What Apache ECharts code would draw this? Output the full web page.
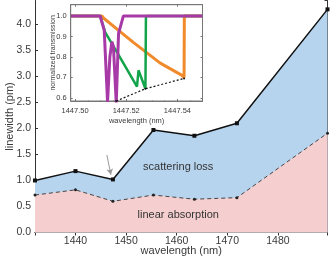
<!DOCTYPE html>
<html><head><meta charset="utf-8">
<script src="https://cdn.jsdelivr.net/npm/echarts@6/dist/echarts.min.js"></script>
<style>html,body{margin:0;padding:0;background:#fff}#c{width:330px;height:257px}</style>
</head><body><div id="c"></div>
<script>
// Main chart data
const wavelengths = [1432.0, 1440.0, 1447.4, 1455.4, 1463.5, 1471.9, 1489.8];
const totalLinewidth = [1.00, 1.18, 1.02, 1.97, 1.86, 2.10, 4.29];
const absorption = [0.72, 0.82, 0.60, 0.72, 0.64, 0.67, 1.91];
const yTicks = [0, 0.5, 1, 1.5, 2, 2.5, 3, 3.5, 4];
const xTicks = [1440, 1450, 1460, 1470, 1480];
// Inset traces (wavelength nm, normalized transmission)
const orangeX = [1447.4983, 1447.5105, 1447.5111, 1447.5170, 1447.5229, 1447.5333, 1447.5418, 1447.5426, 1447.5427, 1447.5498];
const orangeY = [1.0, 1.0, 0.99, 0.93, 0.87, 0.77, 0.71, 0.70, 1.0, 1.0];
const greenX = [1447.4983, 1447.5098, 1447.5118, 1447.5170, 1447.5242, 1447.5248, 1447.5275, 1447.5277, 1447.5498];
const greenY = [1.0, 1.0, 0.92, 0.81, 0.655, 0.735, 0.645, 1.0, 1.0];
const purpleX = [1447.4983, 1447.5098, 1447.5114, 1447.5127, 1447.5136, 1447.5144, 1447.5150, 1447.5161, 1447.5170, 1447.5189, 1447.5498];
const purpleY = [1.0, 1.0, 0.93, 0.58, 0.80, 0.875, 0.85, 0.575, 0.915, 1.0, 1.0];
const minimaX = [1447.5161, 1447.5275, 1447.5426];
const minimaY = [0.585, 0.645, 0.695];

const pair = (xs, ys) => xs.map((x, i) => [x, ys[i]]);
const FONT = 'Liberation Sans';
const chart = echarts.init(document.getElementById('c'), null, {renderer: 'canvas'});

const mainAxisCommon = {
  axisLine: {show: true, lineStyle: {color: '#333', width: 1}},
  axisTick: {show: true, inside: true, length: 3, lineStyle: {color: '#333'}},
  splitLine: {show: false},
  nameMoveOverlap: false
};

chart.setOption({
  animation: false,
  backgroundColor: '#fff',
  textStyle: {fontFamily: FONT},
  grid: [
    {left: 35, right: 2.5, top: 0.5, bottom: 24.5, show: false, containLabel: false, outerBoundsMode: 'none'},
    {left: 70.7, right: 127.5, top: 4.7, bottom: 156, show: true, backgroundColor: '#fff', borderColor: '#777', borderWidth: 1, z: 10, containLabel: false, outerBoundsMode: 'none'}
  ],
  xAxis: [
    Object.assign({}, mainAxisCommon, {
      type: 'value', gridIndex: 0, min: 1432.0, max: 1489.8, splitNumber: 5,
      minorTick: {show: true, splitNumber: 10, length: 1.5, lineStyle: {color: '#555'}},
      axisLabel: {fontSize: 10.5, color: '#3a3a3a', margin: 3, showMinLabel: false, showMaxLabel: false,
        formatter: v => xTicks.includes(Math.round(v)) ? String(Math.round(v)) : ''},
      name: 'wavelength (nm)', nameLocation: 'middle', nameGap: 13,
      nameTextStyle: {fontSize: 11, color: '#3a3a3a', verticalAlign: 'top'}
    }),
    Object.assign({}, mainAxisCommon, {
      type: 'value', gridIndex: 0, position: 'top', min: 1432.0, max: 1489.8, splitNumber: 5,
      axisLabel: {show: false}
    }),
    {
      type: 'value', gridIndex: 1, min: 1447.4983, max: 1447.5498, splitNumber: 3, z: 12,
      nameMoveOverlap: false,
      axisLine: {show: true, lineStyle: {color: '#777'}},
      axisTick: {show: true, inside: true, length: 2, lineStyle: {color: '#777'}},
      minorTick: {show: true, splitNumber: 4, length: 1, lineStyle: {color: '#999'}},
      splitLine: {show: false},
      axisLabel: {fontSize: 7.5, color: '#3a3a3a', margin: 6, showMinLabel: false, showMaxLabel: false,
        formatter: v => v.toFixed(2)},
      name: 'wavelength (nm)', nameLocation: 'middle', nameGap: 16,
      nameTextStyle: {fontSize: 7.5, color: '#3a3a3a', verticalAlign: 'top'}
    },
    {
      type: 'value', gridIndex: 1, position: 'top', min: 1447.4983, max: 1447.5498, splitNumber: 3, z: 12,
      axisLine: {show: true, lineStyle: {color: '#777'}},
      axisTick: {show: true, inside: true, length: 2, lineStyle: {color: '#777'}},
      splitLine: {show: false}, axisLabel: {show: false}
    }
  ],
  yAxis: [
    Object.assign({}, mainAxisCommon, {
      type: 'value', gridIndex: 0, min: 0, max: 4.46, interval: 0.5,
      axisLabel: {fontSize: 10.5, color: '#3a3a3a', margin: 4, showMaxLabel: false,
        formatter: v => yTicks.includes(v) ? v.toFixed(1) : ''},
      name: 'linewidth (pm)', nameLocation: 'middle', nameGap: 20,
      nameTextStyle: {fontSize: 11, color: '#3a3a3a'}
    }),
    Object.assign({}, mainAxisCommon, {
      type: 'value', gridIndex: 0, position: 'right', min: 0, max: 4.46, interval: 0.5,
      axisLabel: {show: false}
    }),
    {
      type: 'value', gridIndex: 1, min: 0.585, max: 1.055, splitNumber: 5, z: 12,
      nameMoveOverlap: false,
      axisLine: {show: true, lineStyle: {color: '#777'}},
      axisTick: {show: true, inside: true, length: 2, lineStyle: {color: '#777'}},
      splitLine: {show: false},
      axisLabel: {fontSize: 7.5, color: '#3a3a3a', margin: 4, showMinLabel: false, showMaxLabel: false,
        formatter: v => v.toFixed(1)},
      name: 'normalized transmission', nameLocation: 'middle', nameGap: 14,
      nameTextStyle: {fontSize: 7, color: '#3a3a3a'}
    },
    {
      type: 'value', gridIndex: 1, position: 'right', min: 0.585, max: 1.055, splitNumber: 5, z: 12,
      axisLine: {show: true, lineStyle: {color: '#777'}},
      axisTick: {show: true, inside: true, length: 2, lineStyle: {color: '#777'}},
      splitLine: {show: false}, axisLabel: {show: false}
    }
  ],
  series: [
    {
      name: 'total', type: 'line', xAxisIndex: 0, yAxisIndex: 0, z: 2,
      data: pair(wavelengths, totalLinewidth),
      symbol: 'rect', symbolSize: 4,
      itemStyle: {color: '#111'},
      lineStyle: {color: '#111', width: 1.5},
      areaStyle: {color: '#b6d4ee', opacity: 1},
      markLine: {
        silent: true, symbol: ['none', 'arrow'], symbolSize: [5, 6],
        lineStyle: {color: '#999', width: 1, type: 'solid'}, label: {show: false},
        data: [[{coord: [1446.2, 1.49]}, {coord: [1447.0, 1.11]}]]
      },
      markPoint: {
        silent: true, symbol: 'circle', symbolSize: 0,
        label: {show: true, position: 'inside', fontSize: 11, color: '#333', fontFamily: FONT},
        data: [{coord: [1460.3, 1.265], value: 'scattering loss', label: {formatter: 'scattering loss'}}]
      }
    },
    {
      name: 'absorption', type: 'line', xAxisIndex: 0, yAxisIndex: 0, z: 3,
      data: pair(wavelengths, absorption),
      symbol: 'circle', symbolSize: 3,
      itemStyle: {color: '#222'},
      lineStyle: {color: '#444', width: 1, type: [4, 3]},
      areaStyle: {color: '#f5cfcf', opacity: 1},
      markPoint: {
        silent: true, symbol: 'circle', symbolSize: 0,
        label: {show: true, position: 'inside', fontSize: 11, color: '#333', fontFamily: FONT},
        data: [{coord: [1460.3, 0.337], value: 'linear absorption', label: {formatter: 'linear absorption'}}]
      }
    },
    {
      name: 'orange', type: 'line', xAxisIndex: 2, yAxisIndex: 2, z: 11,
      data: pair(orangeX, orangeY), symbol: 'none',
      lineStyle: {color: '#f08a2a', width: 3}
    },
    {
      name: 'green', type: 'line', xAxisIndex: 2, yAxisIndex: 2, z: 12,
      data: pair(greenX, greenY), symbol: 'none',
      lineStyle: {color: '#12a44a', width: 2.5}
    },
    {
      name: 'purple', type: 'line', xAxisIndex: 2, yAxisIndex: 2, z: 13,
      data: pair(purpleX, purpleY), symbol: 'none',
      lineStyle: {color: '#a83aa8', width: 3}
    },
    {
      name: 'minima', type: 'line', xAxisIndex: 2, yAxisIndex: 2, z: 14,
      data: pair(minimaX, minimaY), symbol: 'circle', symbolSize: 2,
      itemStyle: {color: '#111'},
      lineStyle: {color: '#111', width: 1.2, type: [2, 2]}
    }
  ]
});
</script>
</body></html>
